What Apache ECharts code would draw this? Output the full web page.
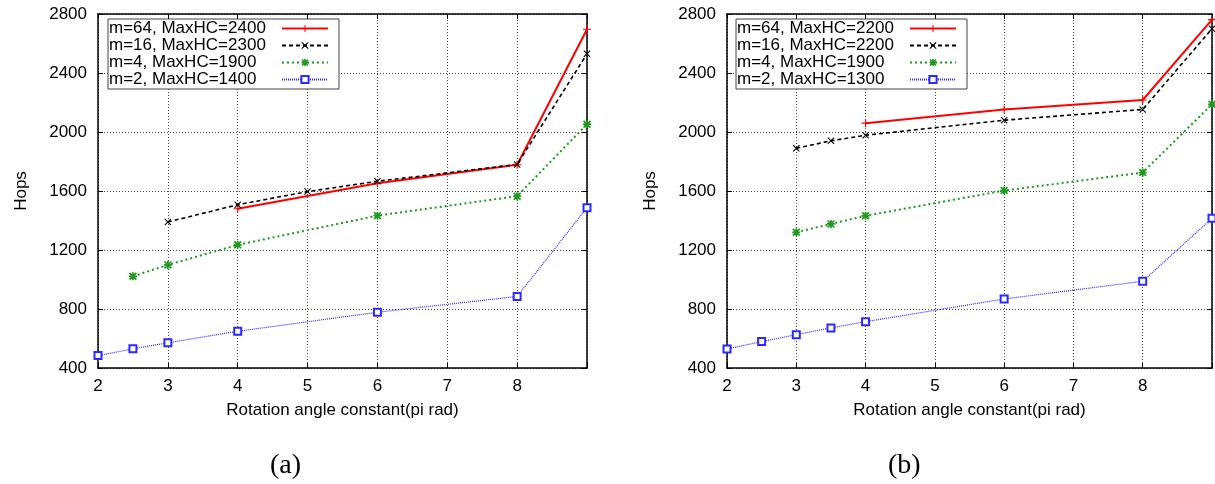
<!DOCTYPE html>
<html>
<head>
<meta charset="utf-8">
<script src="https://cdn.jsdelivr.net/npm/echarts@6/dist/echarts.min.js"></script>
<style>
html,body{margin:0;padding:0;background:#fff;}
#c{width:1215px;height:484px;}
</style>
</head>
<body>
<div id="c"></div>
<script>
// ---- Data ----
const namesA = ['m=64, MaxHC=2400', 'm=16, MaxHC=2300', 'm=4, MaxHC=1900', 'm=2, MaxHC=1400'];
const namesB = ['m=64, MaxHC=2200', 'm=16, MaxHC=2200', 'm=4, MaxHC=1900', 'm=2, MaxHC=1300'];

const xA64 = [4, 6, 8, 9];
const yA64 = [1480, 1652, 1778, 2697];
const xA16 = [3, 4, 5, 6, 8, 9];
const yA16 = [1390, 1507, 1596, 1666, 1780, 2530];
const xA4 = [2.5, 3, 4, 6, 8, 9];
const yA4 = [1022, 1099, 1235, 1433, 1565, 2053];
const xA2 = [2, 2.5, 3, 4, 6, 8, 9];
const yA2 = [484, 530, 571, 649, 778, 885, 1487];

const xB64 = [4, 6, 8, 9];
const yB64 = [2060, 2153, 2217, 2762];
const xB16 = [3, 3.5, 4, 6, 8, 9];
const yB16 = [1890, 1940, 1978, 2080, 2153, 2700];
const xB4 = [3, 3.5, 4, 6, 8, 9];
const yB4 = [1320, 1377, 1432, 1603, 1725, 2188];
const xB2 = [2, 2.5, 3, 3.5, 4, 6, 8, 9];
const yB2 = [529, 579, 626, 672, 714, 868, 988, 1415];

const xTicks = [2, 3, 4, 5, 6, 7, 8];   // labelled x ticks (9 unlabelled)
const yMin = 400, yMax = 2800, yStep = 400;
const xMin = 2, xMax = 9, xStep = 1;
const panelLabels = ['(a)', '(b)'];

// ---- Styles ----
const FONT = 'Liberation Sans';
const PLUS = 'path://M4.3,0h1.4v4.3h4.3v1.4h-4.3v4.3h-1.4v-4.3h-4.3v-1.4h4.3z';
const CROSS = 'path://M0,1.1 L1.1,0 L10,8.9 L8.9,10 Z M8.9,0 L10,1.1 L1.1,10 L0,8.9 Z';
const STAR = 'path://M3.9,0h2.2v3.9h3.9v2.2h-3.9v3.9h-2.2v-3.9h-3.9v-2.2h3.9z M0,1.5 L1.5,0 L10,8.5 L8.5,10 Z M8.5,0 L10,1.5 L1.5,10 L0,8.5 Z';

const styles = [
  {color: '#ff0000', type: 'solid', width: 2, symbol: PLUS, size: 8},
  {color: '#000000', type: [4, 3], width: 1.6, symbol: CROSS, size: 7},
  {color: '#1f9a1f', type: [2, 3], width: 2, symbol: STAR, size: 8},
  {color: '#2a2aff', type: [1, 1], width: 1.2, symbol: 'emptyRect', size: 7}
];

function pairs(xs, ys) { return xs.map((x, i) => [x, ys[i]]); }

function mkSeries(name, xs, ys, st, gi) {
  return {
    name: name, type: 'line',
    xAxisIndex: gi * 2, yAxisIndex: gi * 2,
    data: pairs(xs, ys),
    symbol: st.symbol, symbolSize: st.size,
    showAllSymbol: true,
    lineStyle: {color: st.color, width: st.width, type: st.type},
    itemStyle: {color: st.color, borderColor: st.color, borderWidth: st.symbol === 'emptyRect' ? 1.5 : 0},
    emphasis: {disabled: true},
    animation: false,
    z: 3
  };
}

const grids = [
  {left: 98, top: 14, width: 489, height: 354},
  {left: 727, top: 14, width: 487, height: 354}
];

const xAxes = [], yAxes = [];
[0, 1].forEach(gi => {
  xAxes.push({
    type: 'value', gridIndex: gi, min: xMin, max: xMax, interval: xStep,
    name: 'Rotation angle constant(pi rad)', nameLocation: 'middle', nameGap: 34,
    nameTextStyle: {fontFamily: FONT, fontSize: 17, color: '#000'},
    axisLine: {show: true, onZero: false, lineStyle: {color: '#000', width: 1.5}},
    axisTick: {show: true, inside: true, length: 5, lineStyle: {color: '#000'}},
    axisLabel: {fontFamily: FONT, fontSize: 17, color: '#000', margin: 10,
      formatter: v => (xTicks.indexOf(v) >= 0 ? String(v) : '')},
    splitLine: {show: true, lineStyle: {color: '#444', type: [1, 2], width: 1}}
  });
  xAxes.push({
    type: 'value', gridIndex: gi, min: xMin, max: xMax, interval: xStep, position: 'top',
    axisLine: {show: true, onZero: false, lineStyle: {color: '#000', width: 1.5}},
    axisTick: {show: true, inside: true, length: 5, lineStyle: {color: '#000'}},
    axisLabel: {show: false}, splitLine: {show: false}
  });
  yAxes.push({
    type: 'value', gridIndex: gi, min: yMin, max: yMax, interval: yStep,
    name: 'Hops', nameLocation: 'middle', nameGap: 68, nameRotate: 90,
    nameTextStyle: {fontFamily: FONT, fontSize: 17, color: '#000'},
    axisLine: {show: true, onZero: false, lineStyle: {color: '#000', width: 1.5}},
    axisTick: {show: true, inside: true, length: 5, lineStyle: {color: '#000'}},
    axisLabel: {fontFamily: FONT, fontSize: 17, color: '#000', margin: 11,
      formatter: v => String(v)},
    splitLine: {show: true, lineStyle: {color: '#444', type: [1, 2], width: 1}}
  });
  yAxes.push({
    type: 'value', gridIndex: gi, min: yMin, max: yMax, interval: yStep, position: 'right',
    axisLine: {show: true, onZero: false, lineStyle: {color: '#000', width: 1.5}},
    axisTick: {show: true, inside: true, length: 5, lineStyle: {color: '#000'}},
    axisLabel: {show: false}, splitLine: {show: false}
  });
});

const series = [
  mkSeries(namesA[0], xA64, yA64, styles[0], 0),
  mkSeries(namesA[1], xA16, yA16, styles[1], 0),
  mkSeries(namesA[2], xA4, yA4, styles[2], 0),
  mkSeries(namesA[3], xA2, yA2, styles[3], 0),
  mkSeries(namesB[0], xB64, yB64, styles[0], 1),
  mkSeries(namesB[1], xB16, yB16, styles[1], 1),
  mkSeries(namesB[2], xB4, yB4, styles[2], 1),
  mkSeries(namesB[3], xB2, yB2, styles[3], 1)
];

function mkLegend(names, left) {
  return {
    data: names, left: left, top: 19, orient: 'vertical', align: 'right',
    itemWidth: 46, itemHeight: 9, itemGap: 0,
    padding: [1, 10, 1, 1],
    selectedMode: false,
    backgroundColor: '#fff', borderColor: '#444', borderWidth: 1,
    formatter: n => '{t|' + n + '}',
    textStyle: {
      fontFamily: FONT, fontSize: 17, color: '#000', lineHeight: 17,
      rich: {t: {width: 168, align: 'left', fontFamily: FONT, fontSize: 17, color: '#000', lineHeight: 17}}
    },
    z: 10
  };
}

const chart = echarts.init(document.getElementById('c'), null, {renderer: 'canvas'});
chart.setOption({
  animation: false,
  backgroundColor: '#fff',
  grid: grids,
  xAxis: xAxes,
  yAxis: yAxes,
  legend: [mkLegend(namesA, 108), mkLegend(namesB, 736)],
  series: series,
  graphic: [
    {type: 'text', left: 270, top: 452, style: {text: panelLabels[0], fontFamily: 'Liberation Serif', fontSize: 28, fill: '#000'}},
    {type: 'text', left: 888, top: 452, style: {text: panelLabels[1], fontFamily: 'Liberation Serif', fontSize: 28, fill: '#000'}}
  ]
});
</script>
</body>
</html>
